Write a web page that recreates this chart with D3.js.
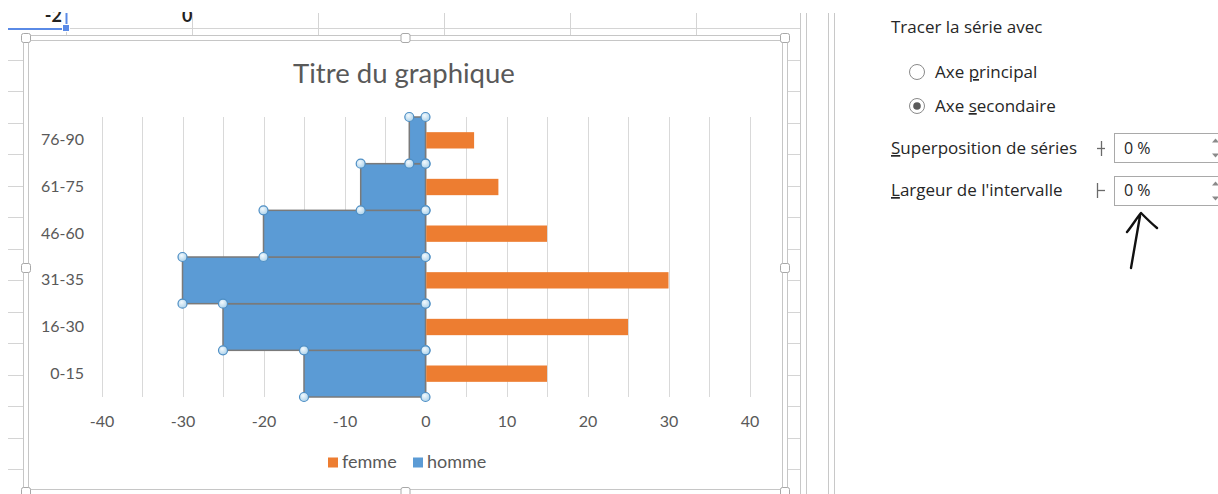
<!DOCTYPE html>
<html>
<head>
<meta charset="utf-8">
<script src="https://cdn.jsdelivr.net/npm/d3@7"></script>
<style>
  html, body { margin: 0; padding: 0; background: #ffffff; }
  svg { display: block; }
</style>
</head>
<body>
<svg id="view" width="1218" height="494"></svg>
<script>
// Age groups, bottom to top
const categories = ["0-15", "16-30", "31-35", "46-60", "61-75", "76-90"];
// Women (right side) and men (left side, negative)
const femme = [15, 25, 30, 15, 9, 6];
const homme = [-15, -25, -30, -20, -8, -2];
const xTicks = [-40, -30, -20, -10, 0, 10, 20, 30, 40];
const gridValues = d3.range(-40, 41, 5);
const seriesNames = ["femme", "homme"];

const chartFont = "Lato, 'Liberation Sans', sans-serif";
const uiFont = "'Open Sans', 'Noto Sans', sans-serif";
const textGrey = "#595959";
const colors = { femme: "#ED7D31", homme: "#5B9BD5" };

const svg = d3.select("#view");

/* ---------- worksheet behind the chart ---------- */
const sheet = svg.append("g");
const rowLines = d3.range(0, 15).map(i => 28 + i * 31.5);
const colLines = [66, 192, 318, 444, 570, 696];

// cell text in the row above
sheet.append("text").attr("x", 62).attr("y", 22).attr("text-anchor", "end")
  .attr("font-family", chartFont).attr("font-size", 18).attr("font-weight", 700)
  .attr("fill", "#222").text("-2");
sheet.append("text").attr("x", 182).attr("y", 22)
  .attr("font-family", chartFont).attr("font-size", 18).attr("font-weight", 700)
  .attr("fill", "#222").text("0");
sheet.append("rect").attr("x", 0).attr("y", 0).attr("width", 830).attr("height", 12).attr("fill", "#fff");

sheet.append("line").attr("x1", 8).attr("x2", 800).attr("y1", 28.5).attr("y2", 28.5)
  .attr("stroke", "#d4d4d4");
sheet.selectAll(".col").data(colLines).join("line")
  .attr("x1", d => d + 0.5).attr("x2", d => d + 0.5).attr("y1", 13).attr("y2", 36)
  .attr("stroke", "#d4d4d4");
sheet.selectAll(".rowL").data(rowLines.slice(1)).join("line")
  .attr("x1", 8).attr("x2", 23).attr("y1", d => Math.round(d) + 0.5).attr("y2", d => Math.round(d) + 0.5)
  .attr("stroke", "#d4d4d4");
sheet.selectAll(".rowR").data(rowLines.slice(1)).join("line")
  .attr("x1", 788).attr("x2", 800).attr("y1", d => Math.round(d) + 0.5).attr("y2", d => Math.round(d) + 0.5)
  .attr("stroke", "#d4d4d4");
[800, 806, 828, 834].forEach(x => {
  sheet.append("line").attr("x1", x + 0.5).attr("x2", x + 0.5).attr("y1", 13).attr("y2", 494)
    .attr("stroke", "#c8c8c8");
});
// active cell outline
sheet.append("line").attr("x1", 8).attr("x2", 64).attr("y1", 29).attr("y2", 29)
  .attr("stroke", "#5a8ae6").attr("stroke-width", 2);
sheet.append("line").attr("x1", 66.5).attr("x2", 66.5).attr("y1", 13).attr("y2", 28)
  .attr("stroke", "#5a8ae6").attr("stroke-width", 2);
sheet.append("rect").attr("x", 62.5).attr("y", 24.5).attr("width", 7).attr("height", 7)
  .attr("fill", "#5a8ae6").attr("stroke", "#fff");

/* ---------- chart object frame ---------- */
const frame = { left: 26, right: 785, top: 38, bottom: 492 };
const chart = svg.append("g");
chart.append("rect")
  .attr("x", frame.left).attr("y", frame.top)
  .attr("width", frame.right - frame.left).attr("height", frame.bottom - frame.top + 10)
  .attr("fill", "#fff").attr("stroke", "#fff").attr("stroke-width", 5);
[-2.5, 2.5].forEach(o => {
  chart.append("rect")
    .attr("x", frame.left + o).attr("y", frame.top + o)
    .attr("width", frame.right - frame.left - 2 * o).attr("height", frame.bottom - frame.top - 2 * o)
    .attr("fill", "none").attr("stroke", "#c6c6c6").attr("stroke-width", 1);
});
const midX = (frame.left + frame.right) / 2;
const handles = [
  [frame.left, frame.top], [midX, frame.top], [frame.right, frame.top],
  [frame.left, 268], [frame.right, 268],
  [frame.left, frame.bottom], [midX, frame.bottom], [frame.right, frame.bottom]
];
chart.selectAll(".handle").data(handles).join("rect")
  .attr("x", d => d[0] - 4.5).attr("y", d => d[1] - 4.5)
  .attr("width", 9).attr("height", 9).attr("rx", 2)
  .attr("fill", "#fff").attr("stroke", "#a8a8a8");

/* ---------- plot ---------- */
const plot = { left: 101.5, right: 749.5, top: 117, bottom: 397 };
const x = d3.scaleLinear().domain([-40, 40]).range([plot.left, plot.right]);
const y = d3.scaleBand().domain(categories.slice().reverse())
  .range([plot.top, plot.bottom]).paddingInner(0).paddingOuter(0);

// title
chart.append("text").attr("x", 404).attr("y", 83).attr("text-anchor", "middle")
  .attr("font-family", chartFont).attr("font-size", 27.5).attr("fill", textGrey)
  .text("Titre du graphique");

// vertical gridlines
chart.append("g").selectAll("line").data(gridValues).join("line")
  .attr("x1", d => Math.round(x(d)) + 0.5).attr("x2", d => Math.round(x(d)) + 0.5)
  .attr("y1", plot.top).attr("y2", plot.bottom)
  .attr("stroke", "#d9d9d9").attr("stroke-width", 1);

// x axis labels (plain hyphen for negatives)
const xAxis = d3.axisBottom(x).tickValues(xTicks).tickSize(0).tickPadding(0)
  .tickFormat(d => String(d));
const gx = chart.append("g").attr("transform", `translate(0, 415)`).call(xAxis);
gx.select(".domain").remove();
gx.selectAll("text").attr("font-family", chartFont).attr("font-size", 16)
  .attr("fill", textGrey).attr("dy", "0.75em");

// y axis labels
const yAxis = d3.axisLeft(y).tickSize(0).tickPadding(0);
const gy = chart.append("g").attr("transform", `translate(84, 0)`).call(yAxis);
gy.select(".domain").remove();
gy.selectAll("text").attr("font-family", chartFont).attr("font-size", 16)
  .attr("fill", textGrey);

const rows = categories.map((c, i) => ({ cat: c, femme: femme[i], homme: homme[i] }));

// men: full-width bands (secondary axis, 0% gap)
chart.append("g").selectAll("rect").data(rows).join("rect")
  .attr("x", d => x(Math.min(0, d.homme)))
  .attr("y", d => y(d.cat))
  .attr("width", d => Math.abs(x(d.homme) - x(0)))
  .attr("height", y.bandwidth())
  .attr("fill", colors.homme)
  .attr("stroke", "#7a7a7a").attr("stroke-width", 1.5);

// women: thinner bars
const barH = y.bandwidth() * 0.35;
chart.append("g").selectAll("rect").data(rows).join("rect")
  .attr("x", x(0) + 0.75)
  .attr("y", d => y(d.cat) + (y.bandwidth() - barH) / 2)
  .attr("width", d => x(d.femme) - x(0) - 0.75)
  .attr("height", barH)
  .attr("fill", colors.femme);

// selection markers on the men's series
const defs = svg.append("defs");
const grad = defs.append("radialGradient").attr("id", "knob").attr("cx", "40%").attr("cy", "35%").attr("r", "70%");
grad.append("stop").attr("offset", "0%").attr("stop-color", "#f2f9fd");
grad.append("stop").attr("offset", "100%").attr("stop-color", "#a9d0ea");
const knobs = [];
rows.forEach(d => {
  const x0 = x(0), x1 = x(d.homme), y0 = y(d.cat), y1 = y(d.cat) + y.bandwidth();
  knobs.push([x1, y0], [x1, y1], [x0, y0], [x0, y1]);
});
chart.append("g").selectAll("circle").data(knobs).join("circle")
  .attr("cx", d => d[0]).attr("cy", d => d[1]).attr("r", 4.5)
  .attr("fill", "url(#knob)").attr("stroke", "#4d8ec4").attr("stroke-width", 1.2);

// legend
const legend = chart.append("g");
const legendItems = [
  { name: seriesNames[0], color: colors.femme, x: 328 },
  { name: seriesNames[1], color: colors.homme, x: 413 }
];
legendItems.forEach(it => {
  legend.append("rect").attr("x", it.x).attr("y", 457.5).attr("width", 10).attr("height", 10)
    .attr("fill", it.color);
  legend.append("text").attr("x", it.x + 14).attr("y", 468)
    .attr("font-family", chartFont).attr("font-size", 18).attr("fill", textGrey).text(it.name);
});

/* ---------- format pane ---------- */
const pane = svg.append("g").attr("font-family", uiFont).attr("font-size", 17).attr("fill", "#262626");
function label(xp, yp, parts) {
  const t = pane.append("text").attr("x", xp).attr("y", yp);
  parts.forEach(p => {
    const s = t.append("tspan").text(p.t);
    if (p.u) s.attr("text-decoration", "underline");
  });
}
label(891, 33, [{ t: "Tracer la série avec" }]);
label(935, 78, [{ t: "Axe " }, { t: "p", u: true }, { t: "rincipal" }]);
label(935, 112, [{ t: "Axe " }, { t: "s", u: true }, { t: "econdaire" }]);
label(891, 154, [{ t: "S", u: true }, { t: "uperposition de séries" }]);
label(891, 196, [{ t: "L", u: true }, { t: "argeur de l'intervalle" }]);

pane.append("circle").attr("cx", 917).attr("cy", 72).attr("r", 7.5)
  .attr("fill", "#fff").attr("stroke", "#8a8a8a");
pane.append("circle").attr("cx", 917).attr("cy", 106).attr("r", 7.5)
  .attr("fill", "#fff").attr("stroke", "#8a8a8a");
pane.append("circle").attr("cx", 917).attr("cy", 106).attr("r", 3.8).attr("fill", "#5a5a5a");

// slider glyphs
pane.append("line").attr("x1", 1101.5).attr("x2", 1101.5).attr("y1", 141).attr("y2", 156).attr("stroke", "#6a6a6a").attr("stroke-width", 1.3);
pane.append("line").attr("x1", 1097).attr("x2", 1105).attr("y1", 148.5).attr("y2", 148.5).attr("stroke", "#6a6a6a").attr("stroke-width", 1.3);
pane.append("line").attr("x1", 1097.5).attr("x2", 1097.5).attr("y1", 183).attr("y2", 198).attr("stroke", "#6a6a6a").attr("stroke-width", 1.3);
pane.append("line").attr("x1", 1097).attr("x2", 1105).attr("y1", 190.5).attr("y2", 190.5).attr("stroke", "#6a6a6a").attr("stroke-width", 1.3);

// spin boxes
[[133.5, 154], [176.5, 196]].forEach(([top, base]) => {
  pane.append("rect").attr("x", 1114.5).attr("y", top).attr("width", 120).attr("height", 29)
    .attr("fill", "#fff").attr("stroke", "#a9a9a9");
  pane.append("text").attr("x", 1124).attr("y", base).attr("font-size", 16).text("0 %");
  pane.append("path").attr("d", `M1212,${top + 9} l3.5,-4 l3.5,4 Z`).attr("fill", "#8a8a8a");
  pane.append("path").attr("d", `M1212,${top + 20} l3.5,4 l3.5,-4 Z`).attr("fill", "#8a8a8a");
});

// hand-drawn arrow
pane.append("path")
  .attr("d", "M1131,268 C1134,250 1137,233 1140,216 M1127,232 C1132,226 1136,219 1141,213 C1146,218 1151,223 1157,228")
  .attr("fill", "none").attr("stroke", "#111").attr("stroke-width", 2.4)
  .attr("stroke-linecap", "round").attr("stroke-linejoin", "round");
</script>
</body>
</html>
